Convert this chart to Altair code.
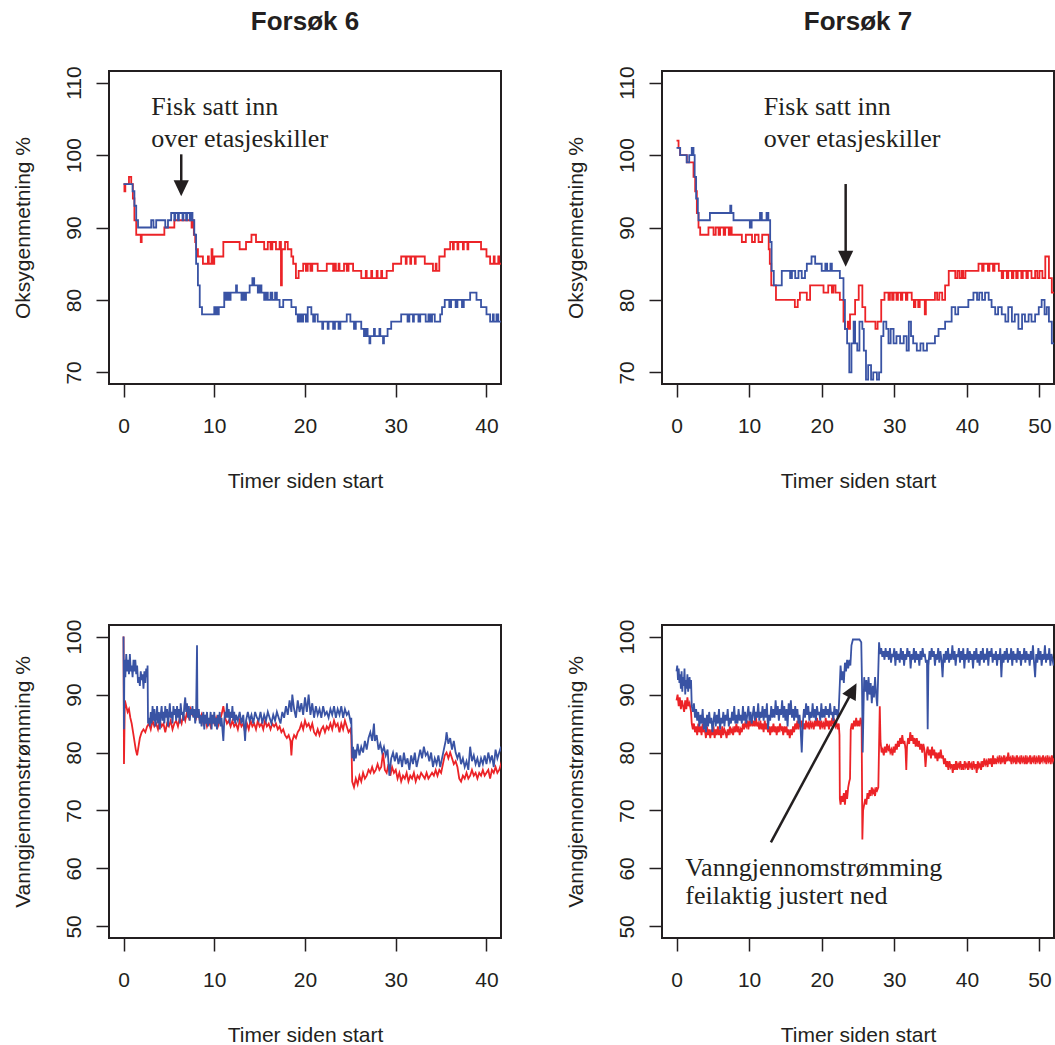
import altair as alt
import pandas as pd

RED = "#ec2327"
BLUE = "#3953a4"
INK = "#231f20"

# ---------------- data: (hours since start, value %) ----------------
# Forsøk 6 – oksygenmetning (step data)
O6_RED = [(0, 96), (0.1, 95), (0.2, 96), (0.6, 97), (0.85, 96), (1.03, 94), (1.2, 91), (1.4, 89), (1.9, 88), (2.0, 89),
          (4.5, 90), (5.6, 91), (7.5, 90), (7.6, 91), (7.75, 89), (7.9, 88), (8.0, 87), (8.2, 86), (8.75, 85), (9.3, 86),
          (9.4, 85), (9.7, 87), (9.8, 85), (10.0, 86), (11.0, 88), (12.8, 87), (13.5, 88), (14.1, 89), (14.6, 88),
          (15.5, 87), (15.9, 88), (16.2, 87), (16.4, 88), (16.8, 87), (17.2, 88), (17.35, 82), (17.45, 87), (17.8, 88),
          (18.1, 87), (18.5, 86), (18.7, 85), (19.0, 83), (19.3, 84), (19.8, 85), (20.1, 84), (20.3, 85), (20.6, 84),
          (20.8, 85), (21.4, 84), (22.4, 85), (23.1, 84), (23.2, 85), (23.4, 84), (23.7, 85), (23.8, 84), (24.3, 85),
          (24.6, 84), (24.8, 85), (25.3, 84), (26.2, 83), (26.7, 84), (26.8, 83), (27.3, 84), (27.4, 83), (27.9, 84),
          (28.0, 83), (28.4, 84), (28.5, 83), (29.0, 84), (29.7, 85), (30.6, 86), (31.1, 85), (31.2, 86), (31.6, 85),
          (31.7, 86), (32.1, 85), (32.2, 86), (33.2, 85), (34.1, 84), (34.4, 85), (34.5, 84), (34.8, 86), (35.4, 87),
          (36.0, 88), (36.3, 87), (36.4, 88), (36.8, 87), (36.9, 88), (37.4, 87), (37.5, 88), (37.9, 87), (38.0, 88),
          (39.4, 87), (40.0, 86), (40.4, 85), (40.8, 86), (40.9, 85), (41.3, 86), (41.4, 85), (41.8, 85)]
O6_BLUE = [(0, 96), (1.0, 95), (1.2, 93), (1.4, 91), (1.6, 90), (3.05, 91), (3.3, 90), (3.6, 91), (4.6, 90), (4.9, 91),
           (5.25, 92), (5.6, 91), (5.7, 92), (6.0, 91), (6.1, 92), (6.5, 91), (6.6, 92), (6.9, 91), (7.0, 92), (7.3, 91),
           (7.4, 92), (7.6, 91), (7.8, 89), (8.0, 85), (8.2, 82), (8.4, 79), (8.65, 78), (10.0, 79), (10.1, 78),
           (10.3, 79), (10.4, 78), (10.5, 79), (11.1, 81), (11.3, 80), (11.5, 81), (11.6, 80), (11.8, 81), (12.4, 82),
           (12.5, 81), (13.0, 80), (13.2, 81), (13.3, 80), (13.5, 81), (13.9, 82), (14.2, 83), (14.4, 82), (14.8, 81),
           (15.0, 82), (15.2, 81), (15.5, 80), (15.7, 81), (15.9, 80), (16.2, 81), (16.4, 80), (16.7, 81), (16.9, 80),
           (17.2, 79), (17.6, 80), (18.5, 79), (19.0, 78), (19.2, 77), (19.4, 78), (19.6, 77), (19.8, 78), (20.1, 77),
           (20.3, 79), (20.7, 78), (20.9, 77), (21.1, 78), (21.4, 77), (21.9, 76), (22.0, 77), (22.5, 76), (22.6, 77),
           (23.1, 76), (23.3, 77), (23.7, 76), (23.9, 77), (24.6, 78), (25.0, 77), (25.4, 76), (25.6, 77), (26.2, 76),
           (26.5, 75), (26.7, 76), (26.9, 75), (27.1, 74), (27.2, 75), (27.6, 76), (27.7, 75), (28.2, 76), (28.3, 75),
           (28.6, 74), (28.7, 75), (29.1, 76), (29.5, 77), (30.6, 78), (31.3, 77), (31.5, 78), (31.9, 77), (32.0, 78),
           (32.5, 77), (32.7, 78), (33.3, 77), (33.6, 78), (33.8, 77), (34.0, 78), (34.3, 77), (34.9, 78), (35.1, 79),
           (35.4, 80), (35.9, 79), (36.1, 80), (36.6, 79), (36.8, 80), (37.3, 79), (37.5, 80), (38.2, 81), (38.9, 80),
           (39.4, 79), (40.0, 78), (40.4, 77), (40.7, 78), (40.8, 77), (41.1, 78), (41.3, 77), (41.8, 77)]

# Forsøk 7 – oksygenmetning (step data)
O7_RED = [(0, 102), (0.28, 101), (0.5, 100), (1.42, 99), (2.34, 97), (2.57, 95), (2.8, 92), (3.03, 90), (3.26, 89),
          (4.4, 90), (5.1, 89), (5.4, 90), (5.8, 89), (6.0, 90), (6.5, 89), (6.7, 90), (7.2, 89), (7.4, 90), (7.6, 89),
          (9.0, 88), (9.55, 89), (10.4, 88), (10.8, 89), (11.3, 88), (11.8, 89), (12.7, 87), (12.85, 85), (13.05, 82),
          (13.7, 80), (16.3, 79), (16.7, 80), (17.0, 81), (17.95, 80), (18.4, 82), (20.25, 81), (20.9, 82), (21.4, 81),
          (21.6, 82), (21.9, 81), (22.5, 80), (23.0, 77), (23.2, 76), (23.6, 77), (23.75, 76), (23.9, 78), (24.6, 80),
          (25.1, 82), (25.6, 79), (26.0, 77), (27.4, 76), (27.7, 77), (28.2, 80), (28.65, 81), (29.2, 80), (29.4, 81),
          (29.7, 80), (29.9, 81), (30.3, 80), (30.5, 81), (30.9, 80), (31.1, 81), (31.6, 80), (31.8, 81), (32.4, 80),
          (32.7, 79), (32.9, 80), (33.3, 79), (33.5, 80), (34.2, 78), (34.35, 80), (35.6, 81), (35.9, 80), (36.2, 81),
          (36.6, 80), (37.0, 82), (37.5, 84), (38.4, 83), (38.7, 84), (39.0, 83), (39.3, 84), (39.5, 83), (39.8, 84),
          (41.6, 85), (42.1, 84), (42.3, 85), (42.9, 84), (43.1, 85), (43.6, 84), (43.8, 85), (44.4, 84), (44.8, 83),
          (45.0, 84), (45.5, 83), (45.7, 84), (46.2, 83), (46.4, 84), (46.8, 83), (47.0, 84), (47.5, 83), (47.7, 84),
          (48.2, 83), (48.4, 84), (48.9, 83), (49.4, 84), (49.7, 83), (50.0, 84), (50.4, 83), (50.8, 86), (51.3, 83),
          (51.7, 81), (52.2, 81)]
O7_BLUE = [(0, 101), (0.5, 100), (1.4, 99), (1.75, 100), (2.1, 101), (2.34, 100), (2.5, 97), (2.7, 94), (2.94, 92),
           (3.03, 91), (4.6, 92), (7.4, 93), (7.55, 92), (7.85, 91), (10.1, 90), (10.35, 91), (11.5, 92), (11.75, 91),
           (12.4, 92), (12.65, 91), (12.9, 88), (13.1, 84), (13.4, 82), (14.5, 84), (15.65, 83), (15.9, 84),
           (16.35, 83), (16.8, 84), (17.25, 83), (17.7, 84), (17.95, 85), (18.6, 86), (19.1, 85), (20.0, 84),
           (20.5, 85), (20.75, 84), (21.2, 85), (21.4, 84), (22.5, 83), (23.0, 80), (23.2, 76), (23.5, 74), (23.8, 70),
           (24.1, 74), (24.4, 77), (24.6, 74), (24.9, 73), (25.2, 77), (25.6, 76), (25.8, 73), (26.1, 69), (26.4, 71),
           (26.8, 69), (27.1, 70), (27.6, 69), (27.9, 70), (28.2, 75), (28.5, 77), (28.9, 76), (29.2, 74), (29.5, 76),
           (29.9, 74), (30.3, 75), (30.8, 74), (31.3, 75), (31.7, 73), (32.0, 77), (32.3, 75), (32.6, 74), (33.1, 73),
           (33.6, 74), (34.0, 73), (34.5, 74), (35.6, 75), (36.1, 76), (37.0, 77), (37.9, 79), (38.4, 78), (38.8, 79),
           (40.2, 80), (40.9, 81), (41.4, 80), (41.7, 81), (42.1, 80), (42.5, 81), (43.0, 80), (43.4, 79), (43.9, 78),
           (44.3, 79), (44.8, 78), (45.3, 77), (45.7, 79), (46.2, 77), (46.6, 78), (47.1, 76), (47.6, 78), (48.0, 77),
           (48.5, 78), (48.9, 77), (49.4, 78), (49.9, 79), (50.3, 80), (50.7, 78), (51.0, 79), (51.3, 77), (51.7, 74),
           (52.2, 74)]

# Forsøk 6 – vanngjennomstrømming
F6_RED = [(0.0, 100), (0.05, 78), (0.15, 89), (0.3, 88), (0.45, 87), (0.6, 87.5), (0.75, 86), (0.9, 85), (1.05, 83.5),
          (1.2, 82), (1.35, 80.5), (1.5, 79.5), (1.65, 81), (1.8, 82.5), (2.0, 83.5), (2.2, 84), (2.4, 83.5), (2.6, 84.5),
          (2.8, 85), (3.0, 84), (3.2, 85.5), (3.4, 84.5), (3.6, 85), (3.8, 84), (4.0, 85.5), (4.2, 84.5), (4.4, 85),
          (4.6, 83.5), (4.8, 85), (5.0, 84.5), (5.2, 85.5), (5.4, 84), (5.6, 85), (5.8, 85.5), (6.0, 84.5), (6.2, 86),
          (6.4, 85), (6.6, 86.5), (6.8, 85.5), (7.0, 87), (7.2, 86), (7.4, 87.5), (7.6, 86.5), (7.8, 87), (8.0, 86),
          (8.2, 87.5), (8.4, 85.5), (8.6, 86.5), (8.8, 85), (9.0, 86), (9.2, 84.5), (9.4, 85.5), (9.6, 84.5), (9.8, 86),
          (10.0, 85), (10.2, 86), (10.4, 84.5), (10.6, 85.5), (10.8, 86.5), (11.0, 88), (11.2, 86), (11.4, 85),
          (11.6, 85.5), (11.8, 84.5), (12.0, 85.5), (12.2, 84.5), (12.4, 85), (12.6, 84), (12.8, 85.5), (13.0, 84.5),
          (13.2, 85), (13.4, 83.5), (13.6, 85), (13.8, 84), (14.0, 85.5), (14.2, 84.5), (14.4, 85), (14.6, 84),
          (14.8, 85.5), (15.0, 84.5), (15.2, 85), (15.4, 84), (15.6, 85.5), (15.8, 84.5), (16.0, 85), (16.2, 84),
          (16.4, 85), (16.6, 84.5), (16.8, 85), (17.0, 84), (17.2, 84.5), (17.4, 83.5), (17.6, 84), (17.8, 83),
          (18.0, 82.5), (18.2, 83), (18.4, 82), (18.5, 79.5), (18.6, 82), (18.8, 83), (19.0, 82.5), (19.2, 83.5),
          (19.4, 84), (19.6, 85), (19.8, 84), (20.0, 85.5), (20.2, 84.5), (20.4, 85), (20.6, 84), (20.8, 85),
          (21.0, 83.5), (21.2, 83), (21.4, 84), (21.6, 83), (21.8, 84), (22.0, 84.5), (22.2, 83.5), (22.4, 84.5),
          (22.6, 84), (22.8, 85), (23.0, 84), (23.2, 85.5), (23.4, 84.5), (23.6, 85), (23.8, 83.5), (24.0, 85),
          (24.2, 84), (24.4, 85.5), (24.6, 84.5), (24.8, 83.5), (25.0, 84), (25.1, 83), (25.2, 75), (25.4, 74),
          (25.6, 75.5), (25.8, 74.5), (26.0, 76), (26.2, 75), (26.4, 76.5), (26.6, 75.5), (26.8, 76), (27.0, 77),
          (27.2, 76.5), (27.4, 77.5), (27.6, 76.5), (27.8, 77), (28.0, 78), (28.2, 77), (28.4, 77.5), (28.6, 80),
          (28.8, 77), (29.0, 76.5), (29.2, 78), (29.4, 76), (29.6, 77.5), (29.8, 76.5), (30.0, 77), (30.2, 75.5),
          (30.4, 76.5), (30.6, 75), (30.8, 76), (31.0, 75.5), (31.2, 76.5), (31.4, 75), (31.6, 76), (31.8, 75.5),
          (32.0, 76.5), (32.2, 75), (32.4, 76), (32.6, 75.5), (32.8, 76.5), (33.0, 76), (33.2, 75.5), (33.4, 76.5),
          (33.6, 75.5), (33.8, 76), (34.0, 76.5), (34.2, 76), (34.4, 77), (34.6, 76), (34.8, 77), (35.0, 76.5),
          (35.2, 78), (35.4, 79.5), (35.6, 80), (35.8, 79), (36.0, 80), (36.2, 79), (36.4, 78), (36.6, 78.5),
          (36.8, 77.5), (37.0, 75.5), (37.2, 75), (37.4, 76), (37.6, 75.5), (37.8, 76.5), (38.0, 75.5), (38.2, 76),
          (38.4, 77), (38.6, 76), (38.8, 76.5), (39.0, 75.5), (39.2, 76.5), (39.4, 76), (39.6, 77), (39.8, 76),
          (40.0, 76.5), (40.2, 77), (40.4, 75.5), (40.6, 77), (40.8, 76.5), (41.0, 77.5), (41.2, 76.5), (41.4, 77),
          (41.6, 78), (41.8, 77)]
F6_BLUE = [(0.0, 100), (0.05, 84), (0.1, 96), (0.2, 93), (0.3, 97), (0.4, 94), (0.5, 96), (0.6, 93.5), (0.7, 97),
           (0.8, 94), (0.9, 95), (1.0, 93), (1.1, 96), (1.2, 94), (1.3, 96), (1.4, 93.5), (1.5, 95), (1.6, 92),
           (1.7, 93), (1.8, 91.5), (1.9, 94), (2.0, 92.5), (2.1, 93.5), (2.2, 91), (2.3, 94), (2.4, 92), (2.5, 94.5),
           (2.6, 93), (2.65, 95), (2.7, 85), (2.8, 86), (2.9, 84.5), (3.0, 87), (3.1, 85), (3.2, 88), (3.3, 85.5),
           (3.4, 87.5), (3.5, 84.5), (3.6, 86), (3.7, 88), (3.8, 85), (3.9, 87), (4.0, 84), (4.1, 86.5), (4.2, 88),
           (4.3, 85.5), (4.4, 87), (4.5, 85), (4.6, 88), (4.7, 86), (4.8, 87.5), (4.9, 84.5), (5.0, 86.5), (5.1, 88.5),
           (5.2, 86), (5.3, 87), (5.4, 85), (5.5, 88), (5.6, 86.5), (5.7, 87.5), (5.8, 85.5), (5.9, 88), (6.0, 86),
           (6.1, 87.5), (6.2, 85), (6.3, 88.5), (6.4, 86.5), (6.5, 87), (6.6, 85.5), (6.7, 88), (6.8, 89.5), (6.9, 87),
           (7.0, 88.5), (7.1, 86), (7.2, 88), (7.3, 85.5), (7.4, 87.5), (7.5, 86.5), (7.6, 88), (7.7, 86), (7.8, 87.5),
           (7.9, 85), (8.0, 87), (8.1, 98.5), (8.15, 86), (8.3, 87.5), (8.4, 85), (8.5, 86.5), (8.6, 84.5), (8.7, 86),
           (8.8, 87), (8.9, 84), (9.0, 86.5), (9.1, 85), (9.2, 87), (9.3, 84.5), (9.4, 86), (9.5, 85), (9.6, 87),
           (9.7, 84), (9.8, 86.5), (9.9, 85), (10.0, 87), (10.1, 84.5), (10.2, 86), (10.3, 84), (10.4, 86.5),
           (10.5, 85), (10.6, 87), (10.7, 84.5), (10.8, 86), (10.9, 84), (11.0, 82), (11.1, 85.5), (11.2, 87),
           (11.3, 86), (11.4, 88.5), (11.5, 86), (11.6, 87.5), (11.7, 85), (11.8, 87), (11.9, 86), (12.0, 88),
           (12.1, 85.5), (12.2, 87), (12.3, 85), (12.4, 86.5), (12.6, 85.5), (12.8, 87), (13.0, 85), (13.2, 86.5),
           (13.4, 82), (13.5, 85.5), (13.7, 87), (13.9, 85.5), (14.1, 86.5), (14.3, 85), (14.5, 87), (14.7, 86),
           (14.9, 85.5), (15.1, 87), (15.3, 85), (15.5, 86.5), (15.7, 85.5), (15.9, 87), (16.1, 86), (16.3, 85),
           (16.5, 86.5), (16.7, 85.5), (16.9, 87), (17.1, 86), (17.3, 85), (17.5, 87), (17.7, 86), (17.9, 88),
           (18.1, 86.5), (18.3, 89), (18.5, 87), (18.6, 90), (18.8, 87.5), (19.0, 86), (19.2, 89), (19.4, 87),
           (19.6, 88.5), (19.8, 86.5), (20.0, 89.5), (20.2, 87), (20.4, 90), (20.6, 86.5), (20.8, 88.5), (21.0, 86),
           (21.2, 88), (21.4, 86.5), (21.6, 87.5), (21.8, 86), (22.0, 88), (22.2, 86.5), (22.4, 87), (22.6, 86),
           (22.8, 87.5), (23.0, 86.5), (23.2, 88), (23.4, 86), (23.6, 87.5), (23.8, 86.5), (24.0, 88), (24.2, 86),
           (24.4, 87.5), (24.6, 86.5), (24.8, 87), (25.0, 85.5), (25.1, 86), (25.2, 79), (25.3, 81), (25.4, 78.5),
           (25.5, 80.5), (25.6, 79), (25.8, 81.5), (26.0, 79.5), (26.2, 81), (26.4, 80), (26.6, 82), (26.8, 80.5),
           (27.0, 82.5), (27.2, 83.5), (27.4, 82), (27.6, 85), (27.7, 82), (27.9, 83), (28.1, 80.5), (28.3, 81.5),
           (28.5, 80), (28.7, 81), (28.9, 79.5), (29.1, 80.5), (29.3, 76), (29.5, 79), (29.7, 80), (29.9, 78.5),
           (30.1, 80), (30.3, 78), (30.5, 79.5), (30.7, 77.5), (30.9, 80), (31.1, 78), (31.3, 79), (31.5, 77),
           (31.7, 79.5), (31.9, 78), (32.1, 80), (32.3, 77.5), (32.5, 79), (32.7, 80.5), (32.9, 79), (33.1, 81),
           (33.3, 79.5), (33.5, 80), (33.7, 78.5), (33.9, 80), (34.1, 77.5), (34.3, 79), (34.5, 78), (34.7, 79.5),
           (34.9, 77.5), (35.1, 79), (35.3, 80.5), (35.5, 82), (35.6, 83.5), (35.8, 81.5), (36.0, 82.5), (36.2, 80.5),
           (36.4, 82), (36.6, 80), (36.8, 79), (37.0, 80), (37.2, 78), (37.4, 79), (37.6, 77.5), (37.8, 78.5),
           (38.0, 77), (38.2, 81), (38.4, 78.5), (38.6, 79.5), (38.8, 78), (39.0, 79), (39.2, 77.5), (39.4, 79),
           (39.6, 78), (39.8, 79.5), (40.0, 78), (40.2, 80), (40.4, 78.5), (40.6, 79.5), (40.8, 77.5), (41.0, 80.5),
           (41.2, 79), (41.4, 80), (41.6, 81), (41.8, 79)]

# Forsøk 7 – vanngjennomstrømming
F7_RED = [(0.0, 89), (0.15, 90), (0.3, 88), (0.45, 89.5), (0.6, 87.5), (0.75, 89), (0.9, 88), (1.05, 87), (1.2, 89),
          (1.35, 87.5), (1.5, 89.5), (1.65, 88), (1.8, 88.5), (2.0, 87), (2.1, 85), (2.25, 84), (2.4, 85), (2.55, 83.5),
          (2.7, 84.5), (2.85, 83), (3.0, 85), (3.15, 83.5), (3.3, 84.5), (3.45, 83), (3.6, 85), (3.75, 83.5),
          (3.9, 84), (4.05, 82.5), (4.2, 84.5), (4.35, 83), (4.5, 84), (4.65, 82.5), (4.8, 84), (4.95, 83),
          (5.1, 84.5), (5.25, 82.5), (5.4, 84), (5.55, 83), (5.7, 84.5), (5.85, 83), (6.0, 84), (6.15, 82.5),
          (6.3, 84.5), (6.45, 83), (6.6, 84), (6.75, 83.5), (6.9, 82.5), (7.05, 84), (7.2, 83), (7.35, 84.5),
          (7.5, 83.5), (7.65, 84), (7.8, 83), (7.95, 84.5), (8.1, 83.5), (8.25, 85), (8.4, 83.5), (8.55, 84.5),
          (8.7, 83), (8.85, 84), (9.0, 83.5), (9.15, 85), (9.3, 84), (9.45, 85), (9.6, 84.5), (9.75, 85.5), (9.9, 84),
          (10.05, 85.5), (10.2, 84.5), (10.35, 86), (10.5, 84.5), (10.65, 85.5), (10.8, 84.5), (10.95, 86),
          (11.1, 84.5), (11.25, 85), (11.4, 84), (11.55, 85.5), (11.7, 84), (11.85, 85), (12.0, 83.5), (12.15, 85.5),
          (12.3, 84), (12.45, 85), (12.6, 83.5), (12.75, 84.5), (12.9, 83), (13.05, 84.5), (13.2, 83.5), (13.35, 85),
          (13.5, 83.5), (13.65, 84.5), (13.8, 83), (13.95, 84.5), (14.1, 83.5), (14.25, 85), (14.4, 84), (14.55, 84.5),
          (14.7, 83), (14.85, 84.5), (15.0, 83.5), (15.15, 84.5), (15.3, 83), (15.45, 84), (15.6, 82.5), (15.75, 84),
          (15.9, 83), (16.05, 84.5), (16.2, 83.5), (16.35, 85), (16.5, 84), (16.65, 85.5), (16.8, 84), (16.95, 85),
          (17.1, 84.5), (17.25, 85.5), (17.4, 84), (17.55, 85), (17.7, 84), (17.85, 85.5), (18.0, 84.5), (18.15, 85),
          (18.3, 84), (18.45, 85.5), (18.6, 84.5), (18.75, 85), (18.9, 84), (19.05, 85.5), (19.2, 84.5), (19.35, 86),
          (19.5, 84.5), (19.65, 85.5), (19.8, 84), (19.95, 85.5), (20.1, 84.5), (20.25, 85), (20.4, 84), (20.55, 86),
          (20.7, 84.5), (20.85, 85.5), (21.0, 84), (21.15, 85.5), (21.3, 84.5), (21.45, 86), (21.6, 85), (21.75, 85.5),
          (21.9, 84.5), (22.05, 85), (22.2, 84), (22.35, 85), (22.45, 83), (22.5, 72), (22.6, 71), (22.75, 72.5),
          (22.9, 71.5), (23.05, 73), (23.2, 71), (23.35, 73.5), (23.5, 72), (23.65, 74), (23.8, 75), (23.9, 75.5),
          (24.0, 84), (24.15, 85), (24.3, 84), (24.45, 85.5), (24.6, 84.5), (24.75, 86), (24.9, 84.5), (25.05, 85.5),
          (25.2, 84.5), (25.35, 86), (25.5, 85), (25.6, 65), (25.7, 70), (25.85, 71), (26.0, 72), (26.15, 71),
          (26.3, 73), (26.45, 72), (26.6, 73.5), (26.75, 72.5), (26.9, 74), (27.05, 73), (27.2, 73.5), (27.35, 72.5),
          (27.5, 74), (27.65, 73.5), (27.8, 74), (28.0, 88), (28.1, 82), (28.25, 80), (28.4, 80.5), (28.55, 79.5),
          (28.7, 81), (28.85, 80), (29.0, 81.5), (29.15, 80.5), (29.3, 81), (29.45, 80), (29.6, 80.5), (29.75, 79.5),
          (29.9, 81), (30.05, 80), (30.2, 81.5), (30.35, 80.5), (30.5, 82), (30.65, 81), (30.8, 82.5), (30.95, 81.5),
          (31.1, 83), (31.25, 81.5), (31.4, 82), (31.55, 80.5), (31.65, 77), (31.75, 81), (31.9, 82.5), (32.05, 81.5),
          (32.2, 83.5), (32.35, 82), (32.5, 83), (32.65, 81.5), (32.8, 82.5), (32.95, 81), (33.1, 82.5), (33.25, 81),
          (33.4, 82), (33.55, 80.5), (33.7, 81.5), (33.85, 80), (34.0, 81.5), (34.15, 80.5), (34.3, 77.5), (34.45, 80),
          (34.6, 81), (34.75, 79.5), (34.9, 80.5), (35.05, 79), (35.2, 81), (35.35, 79.5), (35.5, 80.5), (35.65, 79),
          (35.8, 80), (35.95, 78.5), (36.1, 80), (36.25, 79), (36.4, 80.5), (36.55, 79), (36.7, 79.5), (36.85, 78),
          (37.0, 79), (37.15, 77.5), (37.3, 78.5), (37.45, 77), (37.6, 78.5), (37.75, 77.5), (37.9, 78), (38.05, 76.5),
          (38.2, 78), (38.35, 77), (38.5, 78.5), (38.65, 77), (38.8, 78), (38.95, 77.5), (39.1, 78.5), (39.25, 77),
          (39.4, 78), (39.55, 77), (39.7, 78.5), (39.85, 77.5), (40.0, 78), (40.15, 77), (40.3, 78.5), (40.45, 77.5),
          (40.6, 78), (40.75, 77), (40.9, 78.5), (41.05, 77.5), (41.2, 78), (41.35, 76.5), (41.5, 78.5), (41.65, 77.5),
          (41.8, 78), (41.95, 77), (42.1, 78.5), (42.25, 77.5), (42.4, 79), (42.55, 78), (42.7, 78.5), (42.85, 77.5),
          (43.0, 79), (43.15, 78), (43.3, 79), (43.45, 77.5), (43.6, 79.5), (43.75, 78), (43.9, 79), (44.05, 78),
          (44.2, 79), (44.35, 78.5), (44.5, 79.5), (44.65, 78), (44.8, 79), (44.95, 78.5), (45.1, 79.5), (45.25, 78),
          (45.4, 79), (45.55, 78.5), (45.7, 80), (45.85, 78.5), (46.0, 79), (46.15, 78), (46.3, 79.5), (46.45, 78.5),
          (46.6, 79), (46.75, 78), (46.9, 79.5), (47.05, 78.5), (47.2, 79), (47.35, 78), (47.5, 79.5), (47.65, 78.5),
          (47.8, 79), (47.95, 78), (48.1, 79.5), (48.25, 78), (48.4, 79), (48.55, 78.5), (48.7, 79.5), (48.85, 78),
          (49.0, 79), (49.15, 78.5), (49.3, 79.5), (49.45, 78), (49.6, 79), (49.75, 78.5), (49.9, 79.5), (50.05, 78),
          (50.2, 79), (50.35, 78.5), (50.5, 79.5), (50.65, 78.5), (50.8, 79), (50.95, 78), (51.1, 79.5), (51.25, 78.5),
          (51.4, 79), (51.55, 78), (51.7, 79.5), (51.85, 78.5), (52.0, 79)]
F7_BLUE = [(0.0, 94), (0.1, 95), (0.2, 92.5), (0.3, 94.5), (0.4, 92), (0.5, 93.5), (0.6, 91), (0.7, 94), (0.8, 90.5),
           (0.9, 93), (1.0, 91.5), (1.1, 94.5), (1.2, 90), (1.3, 92.5), (1.4, 91), (1.5, 93.5), (1.6, 90.5), (1.7, 92),
           (1.8, 93), (1.9, 91), (2.0, 92.5), (2.1, 88), (2.25, 87), (2.4, 88.5), (2.55, 86), (2.7, 87.5), (2.85, 85.5),
           (3.0, 87), (3.15, 84.5), (3.3, 86.5), (3.45, 85), (3.6, 87.5), (3.75, 84), (3.9, 86), (4.05, 83.5),
           (4.2, 86.5), (4.35, 84.5), (4.5, 87), (4.65, 85), (4.8, 86), (4.95, 83.5), (5.1, 85.5), (5.25, 87),
           (5.4, 84.5), (5.55, 86.5), (5.7, 85), (5.85, 87.5), (6.0, 84), (6.15, 86), (6.3, 85), (6.45, 87),
           (6.6, 84.5), (6.75, 86.5), (6.9, 85.5), (7.05, 87.5), (7.2, 84.5), (7.35, 86), (7.5, 85), (7.65, 87),
           (7.8, 85.5), (7.95, 88), (8.1, 85), (8.25, 86.5), (8.4, 85), (8.55, 87.5), (8.7, 85.5), (8.85, 86.5),
           (9.0, 85), (9.15, 88), (9.3, 85.5), (9.45, 87), (9.6, 85), (9.75, 86.5), (9.9, 88), (10.05, 85.5),
           (10.2, 87), (10.35, 85), (10.5, 86.5), (10.65, 88), (10.8, 85.5), (10.95, 87), (11.1, 86), (11.25, 88.5),
           (11.4, 85.5), (11.55, 87), (11.7, 86), (11.85, 88), (12.0, 85.5), (12.15, 87.5), (12.3, 86), (12.45, 88.5),
           (12.6, 84), (12.75, 86.5), (12.9, 85.5), (13.05, 88), (13.2, 86), (13.35, 87.5), (13.5, 86), (13.65, 89),
           (13.8, 86.5), (13.95, 88), (14.1, 85.5), (14.25, 87.5), (14.4, 86.5), (14.55, 89), (14.7, 86), (14.85, 88),
           (15.0, 85.5), (15.15, 87.5), (15.3, 84.5), (15.45, 88.5), (15.6, 86.5), (15.75, 89), (15.9, 86),
           (16.05, 87.5), (16.2, 85.5), (16.35, 88), (16.5, 86), (16.65, 87.5), (16.8, 85), (16.95, 86.5), (17.1, 84),
           (17.25, 80), (17.4, 85), (17.55, 87.5), (17.7, 86), (17.85, 88.5), (18.0, 86.5), (18.15, 88), (18.3, 85.5),
           (18.45, 87), (18.6, 86), (18.75, 88.5), (18.9, 86), (19.05, 87.5), (19.2, 85.5), (19.35, 88), (19.5, 86.5),
           (19.65, 87), (19.8, 85.5), (19.95, 88.5), (20.1, 86), (20.25, 87.5), (20.4, 86), (20.55, 88), (20.7, 86.5),
           (20.85, 87.5), (21.0, 86), (21.15, 88.5), (21.3, 86.5), (21.45, 87), (21.6, 85.5), (21.75, 88), (21.9, 86.5),
           (22.05, 87.5), (22.2, 86), (22.35, 87.5), (22.5, 92), (22.6, 95), (22.75, 92.5), (22.9, 94), (23.05, 92),
           (23.2, 95.5), (23.35, 94), (23.5, 96), (23.65, 94.5), (23.8, 96), (23.95, 95), (24.1, 98.5), (24.3, 99.5),
           (24.6, 99.5), (24.9, 99.5), (25.2, 99.5), (25.45, 99), (25.55, 92), (25.65, 80), (25.75, 87), (25.85, 93),
           (26.0, 90.5), (26.15, 92.5), (26.3, 89), (26.45, 93), (26.6, 90), (26.75, 92), (26.9, 88.5), (27.05, 91.5),
           (27.2, 89.5), (27.35, 93), (27.5, 90), (27.65, 88), (27.75, 92), (27.9, 99), (28.05, 97), (28.2, 98),
           (28.35, 96.5), (28.5, 97.5), (28.65, 96), (28.8, 98), (28.95, 96.5), (29.1, 97.5), (29.25, 96), (29.4, 98),
           (29.55, 95.5), (29.7, 97), (29.85, 96.5), (30.0, 98), (30.15, 95), (30.3, 97.5), (30.45, 96), (30.6, 97),
           (30.75, 95.5), (30.9, 98), (31.05, 96), (31.2, 97.5), (31.35, 95), (31.5, 97), (31.65, 96), (31.8, 98),
           (31.95, 96.5), (32.1, 97.5), (32.25, 94.5), (32.4, 97), (32.55, 96), (32.7, 98), (32.85, 95.5), (33.0, 97.5),
           (33.15, 96), (33.3, 97), (33.45, 95), (33.6, 97.5), (33.75, 96), (33.9, 98), (34.05, 96.5), (34.2, 97),
           (34.35, 95.5), (34.5, 96), (34.6, 84), (34.7, 95), (34.85, 97.5), (35.0, 96), (35.15, 98), (35.3, 96.5),
           (35.45, 97.5), (35.6, 95), (35.75, 97), (35.9, 96), (36.05, 98), (36.2, 95.5), (36.35, 97.5), (36.5, 96),
           (36.65, 93), (36.8, 97), (36.95, 95.5), (37.1, 97.5), (37.25, 96), (37.4, 98), (37.55, 95.5), (37.7, 97),
           (37.85, 96), (38.0, 98.5), (38.15, 96), (38.3, 97.5), (38.45, 95), (38.6, 97), (38.75, 96.5), (38.9, 98),
           (39.05, 95.5), (39.2, 97.5), (39.35, 96), (39.5, 98), (39.65, 94.5), (39.8, 97), (39.95, 96), (40.1, 98),
           (40.25, 95.5), (40.4, 97.5), (40.55, 96), (40.7, 97), (40.85, 94.5), (41.0, 97.5), (41.15, 96), (41.3, 98),
           (41.45, 95.5), (41.6, 97), (41.75, 95), (41.9, 97.5), (42.05, 96), (42.2, 98), (42.35, 95.5), (42.5, 97),
           (42.65, 96), (42.8, 98), (42.95, 95), (43.1, 97.5), (43.25, 96.5), (43.4, 98), (43.55, 95.5), (43.7, 97),
           (43.85, 96), (44.0, 97.5), (44.15, 95), (44.3, 97), (44.45, 96), (44.6, 98), (44.75, 93), (44.9, 97),
           (45.05, 95.5), (45.2, 97.5), (45.35, 96), (45.5, 98), (45.65, 95.5), (45.8, 97), (45.95, 96), (46.1, 98),
           (46.25, 95), (46.4, 97.5), (46.55, 96), (46.7, 97), (46.85, 95.5), (47.0, 98), (47.15, 96), (47.3, 97.5),
           (47.45, 95), (47.6, 97), (47.75, 96), (47.9, 98), (48.05, 95.5), (48.2, 97.5), (48.35, 96), (48.5, 97),
           (48.65, 95), (48.8, 97.5), (48.95, 96), (49.1, 98.5), (49.25, 95.5), (49.4, 93), (49.55, 97), (49.7, 95.5),
           (49.85, 98), (50.0, 96), (50.15, 97.5), (50.3, 95), (50.45, 97), (50.6, 96), (50.75, 98.5), (50.9, 95.5),
           (51.05, 97), (51.2, 96), (51.35, 98), (51.5, 95), (51.65, 97), (51.8, 96), (51.95, 95)]

# axis ticks / domains / labels
TIME_TICKS_6 = [0, 10, 20, 30, 40]
TIME_TICKS_7 = [0, 10, 20, 30, 40, 50]
OX_TICKS = [70, 80, 90, 100, 110]
FLOW_TICKS = [50, 60, 70, 80, 90, 100]
X_TITLE = "Timer siden start"
OX_TITLE = "Oksygenmetning %"
FLOW_TITLE = "Vanngjennomstrømming %"
TITLES = ["Forsøk 6", "Forsøk 7"]

# annotations (data coordinates of each panel)
NOTE_FISK = ["Fisk satt inn", "over etasjeskiller"]
NOTE_FLOW = ["Vanngjennomstrømming", "feilaktig justert ned"]

PW, PH = 392, 313


def frame(pairs):
    return pd.DataFrame(pairs, columns=["t", "v"])


def panel(red, blue, xdom, xticks, ydom, yticks, ytitle, step, notes=None, arrows=None, title=None):
    xs = alt.Scale(domain=xdom, nice=False, zero=False)
    ys = alt.Scale(domain=ydom, nice=False, zero=False)
    xax = alt.Axis(values=xticks, title=X_TITLE, format="d")
    yax = alt.Axis(values=yticks, title=ytitle, format="d", labelAngle=270,
                   labelAlign="center", labelBaseline="alphabetic")
    interp = "step-after" if step else "linear"
    X = alt.X("t:Q", scale=xs, axis=xax)
    Y = alt.Y("v:Q", scale=ys, axis=yax)
    layers = []
    for pairs, col in ((red, RED), (blue, BLUE)):
        layers.append(alt.Chart(frame(pairs)).mark_line(
            color=col, strokeWidth=1.8, interpolate=interp, clip=True, strokeJoin="miter"
        ).encode(x=X, y=Y))
    if arrows:
        adf = pd.DataFrame(arrows, columns=["t", "v", "t2", "v2", "tt", "vt", "ang", "shape"])
        layers.append(alt.Chart(adf).mark_rule(color=INK, strokeWidth=2.5).encode(
            x=X, y=Y, x2="t2:Q", y2="v2:Q"))
        for _, r in adf.iterrows():
            layers.append(alt.Chart(pd.DataFrame({"t": [r.tt], "v": [r.vt]})).mark_point(
                shape=r["shape"], filled=True, color=INK, opacity=1, size=256, angle=float(r.ang),
                strokeWidth=0).encode(x=X, y=Y))
    if notes:
        ndf = pd.DataFrame(notes, columns=["t", "v", "label"])
        layers.append(alt.Chart(ndf).mark_text(
            align="left", baseline="middle", font="Liberation Serif", fontSize=26, color=INK
        ).encode(x=X, y=Y, text="label:N"))
    ch = alt.layer(*layers).properties(width=PW, height=PH)
    if title:
        ch = ch.properties(title=alt.TitleParams(title, fontSize=26, font="Liberation Sans",
                                                 fontWeight="bold", color=INK, anchor="middle", offset=31))
    return ch


DOWN = "M0,0L-0.95,-2L0.95,-2Z"
UP = "M0,0L-0.95,2L0.95,2Z"

tl = panel(O6_RED, O6_BLUE, [-1.6, 41.6], TIME_TICKS_6, [68.4, 111.6], OX_TICKS, OX_TITLE, True,
           notes=[(3.05, 106.6, NOTE_FISK[0]), (3.05, 102.2, NOTE_FISK[1])],
           arrows=[(6.36, 100.1, 6.36, 95.9, 6.36, 94.3, 0, DOWN)], title=TITLES[0])
tr = panel(O7_RED, O7_BLUE, [-2, 52], TIME_TICKS_7, [68.4, 111.6], OX_TICKS, OX_TITLE, True,
           notes=[(12.0, 106.6, NOTE_FISK[0]), (12.0, 102.2, NOTE_FISK[1])],
           arrows=[(23.3, 96.0, 23.3, 86.2, 23.3, 84.6, 0, DOWN)], title=TITLES[1])
bl = panel(F6_RED, F6_BLUE, [-1.6, 41.6], TIME_TICKS_6, [48, 102], FLOW_TICKS, FLOW_TITLE, False)
br = panel(F7_RED, F7_BLUE, [-2, 52], TIME_TICKS_7, [48, 102], FLOW_TICKS, FLOW_TITLE, False,
           notes=[(1.2, 60.05, NOTE_FLOW[0]), (1.2, 55.2, NOTE_FLOW[1])],
           arrows=[(13.0, 64.5, 24.15, 90.43, 24.8, 91.95, 28, UP)])

chart = alt.concat(tl, tr, bl, br, columns=2, spacing={"row": 241, "column": 161}, bounds="flush").properties(
    padding={"left": 11, "top": 7, "right": 0, "bottom": 0},
    background="white"
).configure_view(
    stroke=INK, strokeWidth=2
).configure_axis(
    labelFont="Liberation Sans", titleFont="Liberation Sans", labelFontSize=21, titleFontSize=21,
    titleFontWeight="normal", labelColor=INK, titleColor=INK, tickColor=INK, tickSize=13,
    tickWidth=1.5, domain=False, grid=False, labelOverlap=False, labelFlush=False
).configure_axisX(
    labelPadding=18, titlePadding=34
).configure_axisY(
    labelPadding=16, titlePadding=30
)

chart.save("out.html", embed_options={"renderer": "svg", "actions": False})
